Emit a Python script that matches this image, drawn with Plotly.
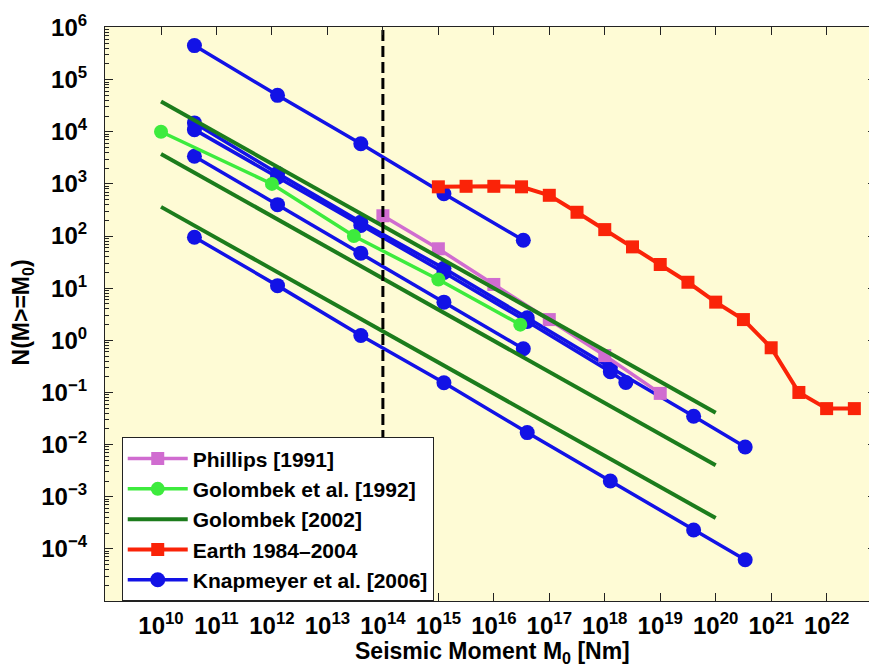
import plotly.graph_objects as go

# ---------------- data ----------------
# Knapmeyer et al. [2006] (five model curves)
knap_a_x = [4.0e10, 1.26e12, 4.0e13, 1.26e15, 3.4e16]
knap_a_y = [4.5e5, 5.0e4, 5.9e3, 650, 83]
knap_b_x = [4.0e10, 1.26e12, 4.0e13, 1.26e15, 4.0e16, 1.26e18, 4.0e19, 3.4e20]
knap_b_y = [1.48e4, 1.6e3, 185, 24, 2.7, 0.30, 0.035, 0.009]
knap_c_x = [4.0e10, 1.26e12, 4.0e13, 1.26e15, 4.0e16, 1.26e18, 2.4e18]
knap_c_y = [1.1e4, 1.35e3, 160, 20, 2.3, 0.25, 0.155]
knap_d_x = [4.0e10, 1.26e12, 4.0e13, 1.26e15, 3.4e16]
knap_d_y = [3.4e3, 400, 47, 5.4, 0.69]
knap_e_x = [4.0e10, 1.26e12, 4.0e13, 1.26e15, 4.0e16, 1.26e18, 4.0e19, 3.4e20]
knap_e_y = [95, 11.2, 1.24, 0.154, 0.017, 0.002, 2.3e-4, 6.2e-5]

# Phillips [1991]
phillips_x = [1e14, 1e15, 1e16, 1e17, 1e18, 1e19]
phillips_y = [245, 57, 11.8, 2.5, 0.51, 0.096]

# Golombek et al. [1992]
golombek92_x = [1e10, 1e12, 3e13, 1e15, 3e16]
golombek92_y = [1e4, 1e3, 100, 14.7, 2.0]

# Golombek [2002] (three straight lines)
golombek02_x = [1e10, 1e20]
golombek02_y_high = [3.8e4, 0.041]
golombek02_y_mid = [3.76e3, 0.004]
golombek02_y_low = [363, 3.9e-4]

# Earth 1984-2004
earth_x = [1e15, 3.16e15, 1e16, 3.16e16, 1e17, 3.16e17, 1e18, 3.16e18,
           1e19, 3.16e19, 1e20, 3.16e20, 1e21, 3.16e21, 1e22, 3.16e22]
earth_y = [880, 900, 900, 880, 605, 286, 133, 62, 28.5, 13, 5.4, 2.5,
           0.72, 0.10, 0.049, 0.049]

# vertical reference line
threshold_moment = 1e14

# axes
x_log_range = [8.99, 22.89]
y_log_range = [-5.0, 6.01]
x_tick_exps = list(range(10, 23))
y_tick_exps = list(range(-4, 7))


def joined(xs_list, ys_list):
    X, Y = [], []
    for xs, ys in zip(xs_list, ys_list):
        X += list(xs) + [None]
        Y += list(ys) + [None]
    return X, Y


def sup(e):
    s = str(e).replace("-", "\u2212")
    return "10<sup>" + s + "</sup>"


BLUE = "#1212E6"
VIOLET = "#D06CD0"
BRIGHT_GREEN = "#3DEB3D"
DARK_GREEN = "#1C7C1C"
RED = "#FA2308"
BG = "#FEFBD5"
FONT = "Liberation Sans, Arial, sans-serif"

fig = go.Figure()

kx, ky = joined([knap_a_x, knap_b_x, knap_c_x, knap_d_x, knap_e_x],
                [knap_a_y, knap_b_y, knap_c_y, knap_d_y, knap_e_y])
fig.add_trace(go.Scatter(x=kx, y=ky, mode="lines+markers",
                         name="Knapmeyer et al. [2006]", legendrank=5,
                         line=dict(color=BLUE, width=3.5),
                         marker=dict(symbol="circle", size=15, color=BLUE)))

fig.add_trace(go.Scatter(x=phillips_x, y=phillips_y, mode="lines+markers",
                         name="Phillips [1991]", legendrank=1,
                         line=dict(color=VIOLET, width=3.5),
                         marker=dict(symbol="square", size=13, color=VIOLET)))

gx, gy = joined([golombek02_x] * 3,
                [golombek02_y_high, golombek02_y_mid, golombek02_y_low])
fig.add_trace(go.Scatter(x=gx, y=gy, mode="lines",
                         name="Golombek [2002]", legendrank=3,
                         line=dict(color=DARK_GREEN, width=4)))

fig.add_trace(go.Scatter(x=golombek92_x, y=golombek92_y, mode="lines+markers",
                         name="Golombek et al. [1992]", legendrank=2,
                         line=dict(color=BRIGHT_GREEN, width=3.5),
                         marker=dict(symbol="circle", size=14, color=BRIGHT_GREEN)))

fig.add_trace(go.Scatter(x=earth_x, y=earth_y, mode="lines+markers",
                         name="Earth 1984\u20132004", legendrank=4,
                         line=dict(color=RED, width=4),
                         marker=dict(symbol="square", size=13, color=RED)))

fig.add_trace(go.Scatter(x=[threshold_moment, threshold_moment],
                         y=[10.0 ** y_log_range[0], 10.0 ** y_log_range[1]],
                         mode="lines", showlegend=False, hoverinfo="skip",
                         line=dict(color="black", width=3, dash="11px,5px")))

axis_common = dict(
    type="log", showgrid=False, zeroline=False, automargin=False,
    showline=True, linecolor="#222222", linewidth=1.2, mirror="ticks",
    ticks="inside", ticklen=8, tickcolor="#222222", tickwidth=1,
    tickfont=dict(family=FONT, size=24, color="black", weight="bold"),
)

fig.update_xaxes(range=x_log_range,
                 tickmode="array",
                 tickvals=[10.0 ** e for e in x_tick_exps],
                 ticktext=[sup(e) for e in x_tick_exps],
                 ticklabelstandoff=3,
                 **axis_common)
fig.update_yaxes(range=y_log_range,
                 tickmode="array",
                 tickvals=[10.0 ** e for e in y_tick_exps],
                 ticktext=[sup(e) for e in y_tick_exps],
                 ticklabelstandoff=12,
                 minor=dict(ticks="inside", ticklen=4, tickcolor="#222222",
                            dtick="D1", showgrid=False),
                 **axis_common)

# The page places the figure 8 px from the top-left corner of the window,
# so the figure is 8 px smaller than the window in each direction.
fig.update_layout(
    width=869, height=659,
    margin=dict(l=97, r=1, t=19, b=66, autoexpand=False),
    paper_bgcolor="white", plot_bgcolor=BG,
    font=dict(family=FONT, color="black"),
    legend=dict(x=0.0217, y=0.285, xanchor="left", yanchor="top",
                bgcolor="white", bordercolor="#222222", borderwidth=1,
                font=dict(family=FONT, size=21, color="black", weight="bold"),
                itemwidth=60, tracegroupgap=0),
    annotations=[
        dict(text="Seismic Moment M<sub>0</sub> [Nm]", xref="paper", yref="paper",
             x=0.503, y=-0.0905, xanchor="center", yanchor="middle",
             showarrow=False,
             font=dict(family=FONT, size=23, color="black", weight="bold")),
        dict(text="N(M>=M<sub>0</sub>)", xref="paper", yref="paper",
             x=-0.1064, y=0.5026, xanchor="center", yanchor="middle",
             textangle=-90, showarrow=False,
             font=dict(family=FONT, size=23, color="black", weight="bold")),
    ],
)

fig.write_html("out.html")
